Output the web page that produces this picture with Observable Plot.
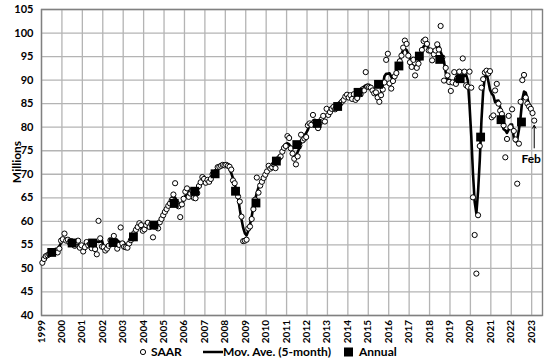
<!DOCTYPE html>
<html><head><meta charset="utf-8">
<script src="https://cdn.jsdelivr.net/npm/d3@7"></script>
<script src="https://cdn.jsdelivr.net/npm/@observablehq/plot@0.6"></script>
<style>
body{margin:0;background:#fff;font-family:Lato,"Open Sans",sans-serif;}
#wrap{position:relative;width:546px;height:360px;overflow:hidden;}
#chart{position:absolute;left:0;top:0;}
#legend{position:absolute;left:0;top:343px;}
</style></head><body><div id="wrap"><div id="chart"></div><div id="legend"></div></div>
<script>
// Monthly SAAR values (millions), Jan 1999 .. Feb 2023
const firstYear = 1999;
const saarValues = [
  51.2, 52.0, 52.6, 52.8, 53.0, 53.3, 53.4, 53.6, 53.8, 53.4, 54.2, 55.9, // 1999
  56.2, 57.4, 55.9, 56.1, 55.5, 55.8, 55.2, 54.8, 55.6, 55.9, 54.4, 54.9, // 2000
  53.6, 54.5, 55.6, 54.9, 55.2, 54.3, 55.0, 54.1, 53.0, 60.1, 56.4, 54.6, // 2001
  54.5, 53.8, 54.2, 54.8, 56.0, 55.8, 56.9, 55.2, 54.2, 55.0, 58.7, 55.3, // 2002
  54.6, 54.5, 54.4, 55.3, 56.0, 56.8, 57.5, 58.2, 58.8, 59.6, 59.2, 58.0, // 2003
  58.3, 59.2, 59.7, 58.8, 59.4, 56.6, 59.0, 59.3, 58.5, 59.8, 60.5, 61.3, // 2004
  62.0, 62.6, 63.3, 63.8, 64.5, 65.7, 68.1, 63.8, 63.2, 60.9, 63.6, 64.8, // 2005
  66.3, 67.0, 65.2, 65.9, 66.5, 65.0, 64.9, 66.0, 67.5, 68.3, 69.4, 69.0, // 2006
  68.2, 68.8, 68.4, 69.0, 70.0, 70.3, 70.5, 71.5, 71.6, 71.8, 72.0, 71.9, // 2007
  72.0, 71.8, 71.6, 71.0, 68.7, 68.1, 66.4, 65.3, 64.2, 61.0, 55.8, 55.9, // 2008
  56.1, 58.5, 58.9, 60.5, 62.6, 64.6, 69.3, 66.1, 67.6, 68.4, 69.2, 69.9, // 2009
  70.6, 71.8, 71.2, 71.5, 72.1, 71.3, 72.7, 73.4, 73.8, 74.8, 75.6, 76.0, // 2010
  78.1, 77.7, 75.5, 74.4, 73.3, 72.1, 73.8, 76.1, 78.4, 77.2, 77.6, 77.9, // 2011
  80.4, 80.8, 80.5, 82.6, 81.2, 80.4, 79.8, 80.9, 81.6, 82.4, 81.2, 83.9, // 2012
  82.6, 83.2, 83.9, 84.3, 83.8, 84.4, 84.6, 85.0, 85.4, 85.8, 86.5, 86.9, // 2013
  86.3, 86.8, 86.0, 87.0, 85.8, 86.2, 87.4, 87.0, 88.0, 87.8, 91.7, 88.6, // 2014
  88.5, 88.4, 87.8, 87.2, 87.4, 86.3, 85.4, 86.8, 88.0, 89.5, 94.3, 95.6, // 2015
  89.3, 88.2, 89.8, 90.8, 91.5, 92.8, 94.0, 95.2, 96.9, 98.4, 97.7, 95.2, // 2016
  93.8, 92.8, 94.3, 91.0, 92.6, 93.5, 94.8, 96.4, 98.3, 98.6, 97.7, 96.3, // 2017
  96.3, 94.2, 95.5, 96.3, 97.6, 96.5, 101.5, 94.8, 89.9, 92.6, 91.0, 89.6, // 2018
  87.7, 89.5, 91.7, 89.2, 90.5, 91.8, 90.6, 94.6, 91.8, 88.9, 88.6, 91.8, // 2019
  88.4, 65.1, 57.1, 48.9, 61.3, 76.0, 88.4, 90.2, 91.6, 92.0, 91.4, 91.9, // 2020
  82.1, 82.5, 87.8, 89.2, 85.0, 83.5, 82.8, 80.4, 73.6, 77.5, 82.4, 80.0, // 2021
  83.8, 79.2, 77.4, 68.0, 76.5, 85.4, 90.0, 91.1, 86.3, 85.0, 84.4, 83.9, // 2022
  83.0, 81.4                                                              // 2023
];
const annualYears = [1999,2000,2001,2002,2003,2004,2005,2006,2007,2008,2009,2010,2011,2012,2013,2014,2015,2016,2017,2018,2019,2020,2021,2022];
const annualValues = [53.4,55.4,55.4,55.5,56.7,59.2,63.8,66.4,70.1,66.4,63.9,72.8,76.3,80.8,84.4,87.4,89.1,93.0,95.1,94.4,90.3,77.9,81.6,81.1];
const yearTicks = [1999,2000,2001,2002,2003,2004,2005,2006,2007,2008,2009,2010,2011,2012,2013,2014,2015,2016,2017,2018,2019,2020,2021,2022,2023];
const valueTicks = [40,45,50,55,60,65,70,75,80,85,90,95,100,105];
const yLabel = "Millions";
const legendLabels = ["SAAR", "Mov. Ave. (5-month)", "Annual"];
const noteText = "Feb";
const noteArrowFrom = 75.6, noteArrowTo = 80.4, noteTextY = 73.3;

const monthly = saarValues.map((v, i) => ({t: firstYear + (i + 0.5) / 12, v}));
const annual = annualYears.map((y, i) => ({t: y + 0.5, v: annualValues[i]}));
const lastPt = monthly[monthly.length - 1];

const plot = Plot.plot({
  width: 546, height: 345,
  marginLeft: 41, marginRight: 4, marginTop: 9, marginBottom: 30,
  style: {fontFamily: "Lato, sans-serif", fontWeight: "bold", color: "#000", background: "white", overflow: "visible"},
  x: {domain: [1999, 2023.53], axis: null},
  y: {domain: [40, 105]},
  marks: [
    Plot.gridX(yearTicks, {stroke: "#b4b4b4", strokeOpacity: 1, strokeWidth: 1.3}),
    Plot.gridY(valueTicks, {stroke: "#b4b4b4", strokeOpacity: 1, strokeWidth: 1.3}),
    Plot.frame({stroke: "#808080", strokeWidth: 1.4}),
    Plot.axisY(valueTicks, {tickSize: 0, tickPadding: 8, fontSize: 11, label: null}),
    Plot.line(monthly, Plot.windowY({k: 5, anchor: "middle", strict: true}, {x: "t", y: "v", stroke: "black", strokeWidth: 2.6, curve: "linear"})),
    Plot.dot(monthly, {x: "t", y: "v", r: 2.6, fill: "white", stroke: "black", strokeWidth: 1}),
    Plot.dot(annual, {x: "t", y: "v", symbol: "square", r: 5, fill: "black", stroke: "none"}),
    Plot.arrow([lastPt], {x1: d => d.t, x2: d => d.t, y1: () => noteArrowFrom, y2: () => noteArrowTo, stroke: "black", strokeWidth: 1, headLength: 5}),
    Plot.text([noteText], {text: d => d, x: () => lastPt.t - 0.15, y: () => noteTextY, fontSize: 12, fontWeight: "bold"})
  ]
});
document.getElementById("chart").appendChild(plot);

// Rotated year labels and y title, positioned through the plot's own scales
const xs = plot.scale("x"), ys = plot.scale("y");
const svg = d3.select(plot);
const yBottom = ys.apply(40), yTop = ys.apply(105);
const g = svg.append("g").attr("font-family", "Lato, sans-serif").attr("font-weight", "bold").attr("fill", "black");
const yg = g.selectAll("g.yr").data(yearTicks).join("g")
  .attr("class", "yr")
  .attr("transform", d => `translate(${xs.apply(d)},${yBottom + 5})`);
yg.append("g").attr("transform", "rotate(-90)")
  .append("text")
  .attr("x", 0).attr("y", 0)
  .attr("text-anchor", "end").attr("dy", "0.35em").attr("font-size", 10)
  .text(d => String(d));
g.append("text")
  .attr("transform", `translate(17,${(yBottom + yTop) / 2}) rotate(-90)`)
  .attr("text-anchor", "middle").attr("dy", "0.35em").attr("font-size", 12)
  .text(yLabel);

// Legend
const lg = d3.select("#legend").append("svg").attr("width", 546).attr("height", 17)
  .style("font-family", "Lato, sans-serif").style("font-weight", "bold").style("font-size", "12px");
lg.append("circle").attr("cx", 143).attr("cy", 9).attr("r", 2.6).attr("fill", "white").attr("stroke", "black");
lg.append("text").attr("x", 151).attr("y", 13).text(legendLabels[0]);
lg.append("line").attr("x1", 203).attr("x2", 223).attr("y1", 9).attr("y2", 9).attr("stroke", "black").attr("stroke-width", 2.5);
lg.append("text").attr("x", 223).attr("y", 13).text(legendLabels[1]);
lg.append("rect").attr("x", 344).attr("y", 4.5).attr("width", 9).attr("height", 9).attr("fill", "black");
lg.append("text").attr("x", 359).attr("y", 13).text(legendLabels[2]);
</script></body></html>
